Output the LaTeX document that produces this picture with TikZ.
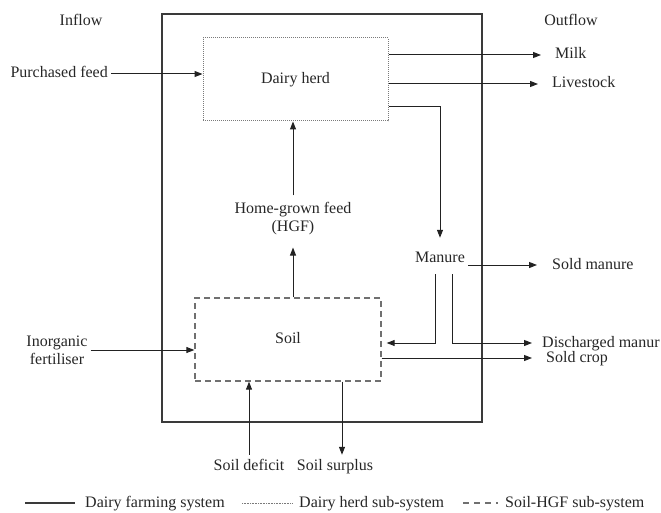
\documentclass[tikz,border=0pt]{standalone}
\usepackage{fontspec}
\setmainfont{Liberation Serif}
\usetikzlibrary{arrows.meta,calc}
\definecolor{linec}{HTML}{222222}
\definecolor{boxc}{HTML}{3A3A3A}
\definecolor{dotc}{HTML}{7A7A7A}
\definecolor{dashc}{HTML}{707070}
\begin{document}
\begin{tikzpicture}[x=1pt,y=-1pt,
  every node/.style={font=\fontsize{16}{18}\selectfont, text=black!85, inner sep=3pt, text height=11pt, text depth=3pt},
  flow/.style={draw=linec, line width=1pt, -{Triangle[length=8pt,width=6pt]}},
  plain/.style={draw=linec, line width=1pt},
  sysbox/.style={draw=boxc, line width=1.1pt},
  herdbox/.style={draw=dotc, line width=1pt, dash pattern=on 1pt off 1pt, minimum width=185pt, minimum height=83pt},
  soilbox/.style={draw=dashc, line width=1.3pt, dash pattern=on 6pt off 4pt, minimum width=186pt, minimum height=83pt},
  outlbl/.style={anchor=west, inner xsep=0pt},
  twoline/.style={align=center, text height=, text depth=},
]
\useasboundingbox (0,0) rectangle (661,513);

% boxes
\node[sysbox, minimum width=320pt, minimum height=408pt, inner sep=0pt] (system) at (322,218) {};
\node[herdbox] (dairy) at (295.5,79.5) {Dairy herd};
\node[soilbox] (soil) at (288,339.5) {Soil};

% headings
\node (inflow) at (81,22) {Inflow};
\node (outflow) at (571,22) {Outflow};

% text nodes
\node[anchor=east] (purchased) at (111,74) {Purchased feed};
\node[outlbl] (milk) at (555,55) {Milk};
\node[outlbl] (livestock) at (552,84) {Livestock};
\node[twoline] (hgf) at (293,219) {Home-grown feed\\(HGF)};
\node (manure) at (440,258) {Manure};
\node[outlbl] (soldmanure) at (552,265) {Sold manure};
\node[outlbl] (discharged) at (542,343) {Discharged manur};
\node[outlbl] (soldcrop) at (546,358) {Sold crop};
\node[twoline] (inorganic) at (57,350) {Inorganic\\fertiliser};
\node (deficit) at (249,466) {Soil deficit};
\node (surplus) at (335,466) {Soil surplus};

\coordinate (dm) at (388,107);

% connectors
\draw[flow] (purchased.east) -- (dairy.west |- purchased.east);
\draw[flow, shorten >=14pt] (dairy.east |- milk.west) -- (milk.west);
\draw[flow, shorten >=14pt] (dairy.east |- livestock.west) -- (livestock.west);
\draw[flow, shorten >=10pt] (dairy.east |- dm) -| (manure.north);
\draw[flow, shorten <=4pt] (hgf.north) -- (hgf.north |- dairy.south);
\draw[flow, shorten >=9pt] (hgf.south |- soil.north) -- (hgf.south);
\draw[flow, shorten >=15pt] (manure.east |- soldmanure.west) -- (soldmanure.west);
\draw[flow, shorten <=6pt, shorten >=5pt] ([xshift=-5pt]manure.south) |- (soil.east |- discharged.west);
\draw[flow, shorten <=6pt, shorten >=10pt] ([xshift=12pt]manure.south) |- (discharged.west);
\draw[flow, shorten >=14pt] (soil.east |- soldcrop.west) -- (soldcrop.west);
\draw[flow] (inorganic.east) -- (soil.west |- inorganic.east);
\draw[flow, shorten <=1pt] (deficit.north) -- (deficit.north |- soil.south);
\draw[flow, shorten >=1pt] ([xshift=7pt]surplus.north |- soil.south) -- ([xshift=7pt]surplus.north);

% legend
\node[outlbl] (leg1) at (85,503) {Dairy farming system};
\node[outlbl] (leg2) at (299,503) {Dairy herd sub-system};
\node[outlbl] (leg3) at (505,503) {Soil-HGF sub-system};
\coordinate (l1) at (25,503);
\coordinate (l2) at (242,503);
\coordinate (l3) at (463,503);
\draw[draw=boxc, line width=1.1pt, shorten >=10pt] (l1) -- (leg1.west);
\draw[draw=dotc, line width=0.8pt, dash pattern=on 0.8pt off 0.8pt, shorten >=7pt] (l2) -- (leg2.west);
\draw[draw=dashc, line width=1.2pt, dash pattern=on 6pt off 5pt, shorten >=7pt] (l3) -- (leg3.west);
\end{tikzpicture}
\end{document}
